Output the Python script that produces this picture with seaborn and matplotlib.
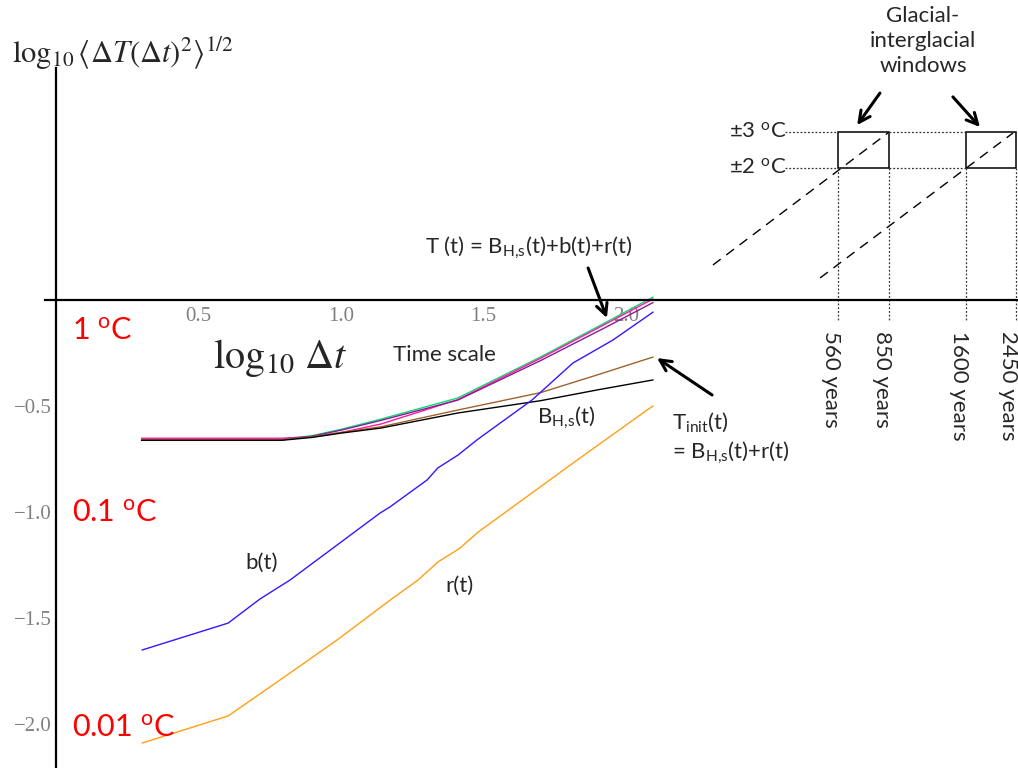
import matplotlib
matplotlib.use("Agg")
import numpy as np
import pandas as pd
import seaborn as sns
from matplotlib import pyplot as plt
from matplotlib.patches import Rectangle
from matplotlib.ticker import FixedLocator

# ---- curves (x = log10 dt, y = log10 rms dT) ----
upper_x = [0.30, 0.79, 0.90, 1.00, 1.14, 1.41, 1.70, 1.93, 2.095]
total_green = [-0.656, -0.656, -0.640, -0.610, -0.562, -0.462, -0.269, -0.105, 0.014]
total_pink = [-0.652, -0.652, -0.645, -0.625, -0.585, -0.470, -0.275, -0.112, 0.005]
total_purple = [-0.660, -0.660, -0.642, -0.614, -0.568, -0.472, -0.286, -0.128, -0.012]

mid_x = [0.30, 0.79, 0.90, 1.00, 1.14, 1.41, 1.70, 1.90, 2.095]
t_init = [-0.660, -0.660, -0.645, -0.625, -0.598, -0.519, -0.437, -0.353, -0.269]
b_hs = [-0.662, -0.662, -0.648, -0.628, -0.604, -0.533, -0.475, -0.424, -0.377]

b_x = [0.302, 0.604, 0.716, 0.821, 1.137, 1.172, 1.302, 1.340, 1.411, 1.477,
       1.670, 1.814, 1.954, 2.095]
b_y = [-1.651, -1.524, -1.410, -1.321, -1.005, -0.976, -0.849, -0.792, -0.731,
       -0.660, -0.472, -0.297, -0.189, -0.057]

r_x = [0.302, 0.604, 0.796, 0.986, 1.182, 1.270, 1.340, 1.418, 1.477, 1.839,
       2.074, 2.095]
r_y = [-2.090, -1.962, -1.783, -1.604, -1.406, -1.321, -1.236, -1.170, -1.099,
       -0.745, -0.519, -0.500]

# schematic glacial-interglacial part
window_x = [2.744, 2.923, 3.193, 3.368]
window_labels = ["560 years", "850 years", "1600 years", "2450 years"]
level_y = [0.623, 0.792]
level_labels = ["±2 $^{\\mathrm{o}}$C", "±3 $^{\\mathrm{o}}$C"]
guide1_x = [2.305, 2.919]
guide1_y = [0.165, 0.788]
guide2_x = [2.681, 3.358]
guide2_y = [0.104, 0.788]

unit_y = [-0.146, -1.005, -2.02]
unit_labels = ["1 $^{\\mathrm{o}}$C", "0.1 $^{\\mathrm{o}}$C", "0.01 $^{\\mathrm{o}}$C"]

HS = r"$_{\mathrm{H{,}s}}$"

sns.set_style("white")
plt.rcParams['font.family'] = ['Lato', 'DejaVu Sans']
plt.rcParams['mathtext.fontset'] = 'custom'
plt.rcParams['mathtext.rm'] = 'Lato'
plt.rcParams['mathtext.it'] = 'Lato:italic'
plt.rcParams['mathtext.bf'] = 'Lato:bold'

fig = plt.figure(figsize=(10.18, 7.68), dpi=100)
ax = fig.add_axes([0, 0, 1, 1])
ax.set_facecolor("white")

series = [
    (upper_x, total_green, "#00e070"),
    (upper_x, total_pink, "#ff1a9c"),
    (upper_x, total_purple, "#8a1a9a"),
    (mid_x, t_init, "#a0622d"),
    (mid_x, b_hs, "black"),
    (b_x, b_y, "#3a14ff"),
    (r_x, r_y, "#ffa014"),
]
for xs, ys, col in series:
    sns.lineplot(x=xs, y=ys, color=col, lw=1.0, sort=False, estimator=None, ax=ax)

ax.set_xlim(-56 / 285, (1018 - 56) / 285)
ax.set_ylim((300 - 768) / 212, 300 / 212)

# Mathematica-like axes through the origin
for side in ["top", "right"]:
    ax.spines[side].set_visible(False)
ax.spines["left"].set_position(("data", 0))
ax.spines["bottom"].set_position(("data", 0))
ax.spines["left"].set_bounds(-2.21, 1.094)
ax.spines["bottom"].set_bounds(-0.04, 3.38)
for side in ["left", "bottom"]:
    ax.spines[side].set_linewidth(1.6)
    ax.spines[side].set_color("black")

ax.set_xticks([0.5, 1.0, 1.5, 2.0])
ax.set_xticklabels(["0.5", "1.0", "1.5", "2.0"])
ax.set_yticks([-0.5, -1.0, -1.5, -2.0])
ax.set_yticklabels(["\u22120.5", "\u22121.0", "\u22121.5", "\u22122.0"])
ax.xaxis.set_minor_locator(FixedLocator(np.arange(0.1, 2.15, 0.1)))
ax.yaxis.set_minor_locator(FixedLocator(np.arange(-2.2, -0.05, 0.1)))
ax.tick_params(which="major", direction="in", length=4, width=0.8, color="#555555",
               labelsize=15, labelcolor="#808080", labelfontfamily="Liberation Serif")
ax.tick_params(which="minor", direction="in", length=2, width=0.6, color="#777777")
ax.tick_params(axis="x", which="major", pad=5)
ax.tick_params(axis="y", which="major", pad=3)

# axis titles (Mathematica TraditionalForm look)
ax.text(-0.154, 1.118, r"$\log_{10}\left\langle\Delta T\left(\Delta t\right)^{2}\right\rangle^{1/2}$",
        fontsize=22, math_fontfamily="stix", va="baseline", ha="left")
ax.text(0.551, -0.321, r"$\log_{10}\,\Delta t$", fontsize=29,
        math_fontfamily="stix", va="baseline", ha="left")

# red temperature labels
for yy, lab in zip(unit_y, unit_labels):
    ax.text(0.056, yy, lab, color="red", fontsize=22, va="center", ha="left")

# curve labels
fs = 16
ax.text(1.182, -0.26, "Time scale", fontsize=fs, va="center")
ax.text(1.688, -0.557, "B" + HS + "(t)", fontsize=fs, va="center")
ax.text(0.663, -1.241, "b(t)", fontsize=fs, va="center")
ax.text(1.365, -1.349, "r(t)", fontsize=fs, va="center")
ax.text(2.161, -0.575, r"T$_{\mathrm{init}}$(t)", fontsize=fs, va="center")
ax.text(2.161, -0.722, "= B" + HS + "(t)+r(t)", fontsize=fs, va="center")
ax.text(1.295, 0.245, "T (t) = B" + HS + "(t)+b(t)+r(t)", fontsize=fs, va="center")

arrow = dict(arrowstyle="->,head_length=0.8,head_width=0.4", color="black", lw=2.2,
             shrinkA=0, shrinkB=0)
ax.annotate("", xy=(1.933, -0.085), xytext=(1.867, 0.151), arrowprops=arrow)
ax.annotate("", xy=(2.109, -0.274), xytext=(2.302, -0.448), arrowprops=arrow)
ax.annotate("", xy=(2.811, 0.825), xytext=(2.891, 0.976), arrowprops=arrow)
ax.annotate("", xy=(3.242, 0.816), xytext=(3.147, 0.958), arrowprops=arrow)

# glacial-interglacial windows
ax.text(3.042, 1.385, "Glacial-\ninterglacial\nwindows", fontsize=fs,
        ha="center", va="top", linespacing=1.3)
dash = (0, (7, 5))
ax.plot(guide1_x, guide1_y, color="black", lw=1, linestyle=dash)
ax.plot(guide2_x, guide2_y, color="black", lw=1, linestyle=dash)

for i in (0, 2):
    ax.add_patch(Rectangle((window_x[i], level_y[0]), window_x[i + 1] - window_x[i],
                           level_y[1] - level_y[0], fill=False, ec="black", lw=1.1))

dot = (0, (1.5, 1.5))
for yy, lab in zip(level_y, level_labels):
    ax.plot([2.558, window_x[0]], [yy, yy], color="#333333", lw=0.9, linestyle=dot)
    ax.plot([window_x[1], window_x[2]], [yy, yy], color="#333333", lw=0.9, linestyle=dot)
    ax.text(2.562, yy, lab, fontsize=fs, ha="right", va="center")

for xx, lab in zip(window_x, window_labels):
    ax.plot([xx, xx], [level_y[0], -0.094], color="#333333", lw=0.9, linestyle=dot)
    ax.text(xx - 0.026, -0.145, lab, fontsize=fs, rotation=270, ha="center", va="top")

fig.savefig("out.png", dpi=100)
